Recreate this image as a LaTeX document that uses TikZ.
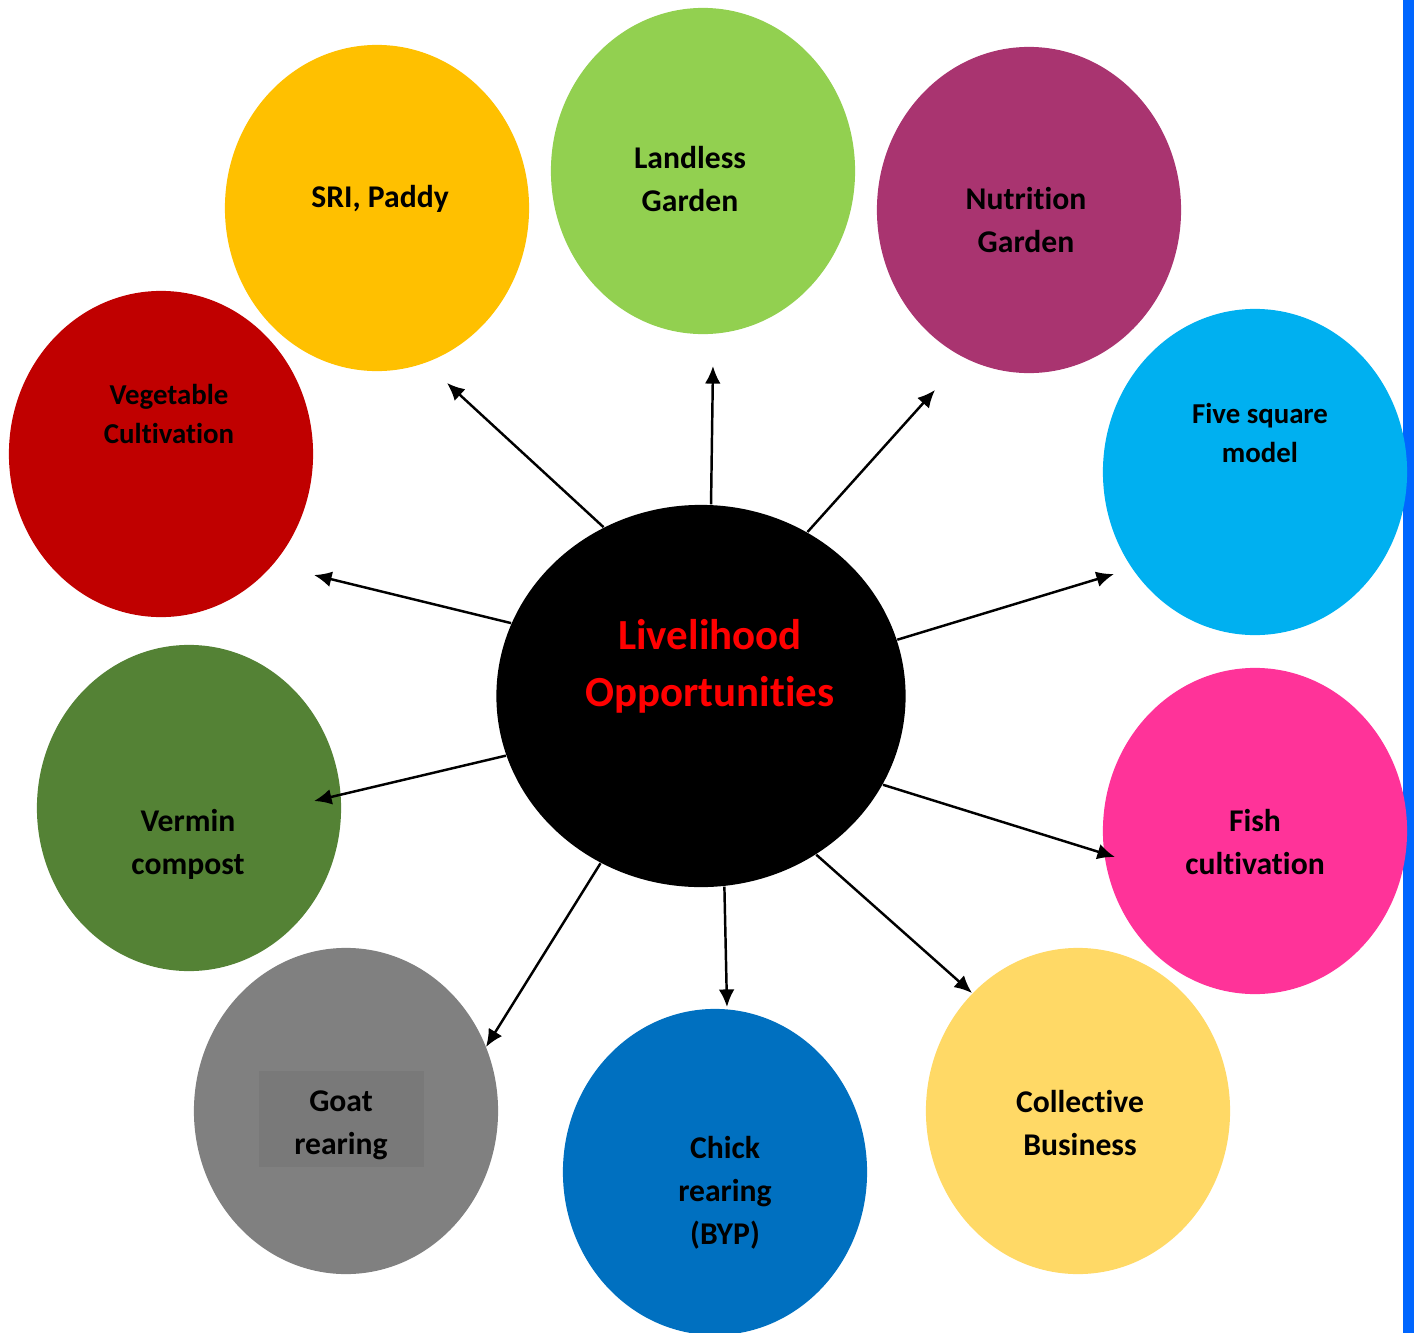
\documentclass[tikz,border=0pt]{standalone}
\usepackage{fontspec}
\setmainfont{Carlito}[Ligatures=NoCommon]
\usepackage{tikz}
\usetikzlibrary{shapes.geometric,arrows.meta}
\usepackage{xcolor}
\definecolor{jaunesri}{RGB}{255,192,0}
\definecolor{vertclair}{RGB}{146,208,80}
\definecolor{prune}{RGB}{169,52,112}
\definecolor{cyanvif}{RGB}{0,176,240}
\definecolor{rosevif}{RGB}{255,51,153}
\definecolor{jaunepale}{RGB}{255,217,102}
\definecolor{bleufonce}{RGB}{0,112,192}
\definecolor{grismoyen}{RGB}{128,128,128}
\definecolor{grisfonce}{RGB}{121,121,121}
\definecolor{vertfonce}{RGB}{84,130,53}
\definecolor{rougefonce}{RGB}{192,0,0}
\definecolor{bleubord}{RGB}{0,102,255}

\begin{document}
\begin{tikzpicture}[x=0.01cm,y=-0.01cm,
		bulle/.style={ellipse, minimum width=3.04cm, minimum height=3.26cm, inner sep=0pt},
		etiquette/.style={align=center, font=\fontsize{9}{12.2}\selectfont\bfseries},
		petite/.style={align=center, font=\fontsize{8.2}{11.1}\selectfont\bfseries},
		fleche/.style={-{Latex[length=5pt,width=4.5pt]}, line width=0.7pt}]
	\useasboundingbox (0,0) rectangle (1414,1333);
	\fill[bleubord] (1403,0) rectangle (1414,1333);
	
	% bulles autour
	\node[bulle, fill=jaunesri] (sri) at (377,208) {};
	\node[bulle, fill=vertclair] (landless) at (703,171) {};
	\node[bulle, fill=prune] (nutrition) at (1029,210) {};
	\node[bulle, fill=cyanvif] (fivesq) at (1255,472) {};
	\node[bulle, fill=rosevif] (fish) at (1255,831) {};
	\node[bulle, fill=jaunepale] (collectif) at (1078,1111) {};
	\node[bulle, fill=bleufonce] (chick) at (715,1172) {};
	\node[bulle, fill=grismoyen] (goat) at (346,1111) {};
	\node[bulle, fill=vertfonce] (vermin) at (189,808) {};
	\node[bulle, fill=rougefonce] (legume) at (161,454) {};
	
	% bulle centrale
	\node[ellipse,
		fill=black,
		minimum width=4.09cm,
		minimum height=3.82cm,
		inner sep=0pt] (centre) at (701,696) {};
	
	% textes
	\fill[grisfonce] (259,1071) rectangle (424,1167);
	\node[etiquette] (sri-txt) at (380,199) {SRI, Paddy};
	\node[etiquette] (landless-txt) at (690,179) {Landless\\Garden};
	\node[etiquette] (nutrition-txt) at (1026,220) {Nutrition\\Garden};
	\node[petite] (fivesq-txt) at (1260,433) {Five square\\model};
	\node[etiquette] (fish-txt) at (1255,842) {Fish\\cultivation};
	\node[etiquette] (collectif-txt) at (1080,1123) {Collective\\Business};
	\node[etiquette] (chick-txt) at (725,1193) {Chick\\rearing\\(BYP)};
	\node[etiquette] (goat-txt) at (341,1125) {Goat\\rearing};
	\node[etiquette] (vermin-txt) at (188,844) {Vermin\\compost};
	\node[petite] (legume-txt) at (169,414) {Vegetable\\Cultivation};
	\node[align=center,
		text=red,
		font=\fontsize{12.2}{16.2}\selectfont\bfseries] (centre-txt) at (710,666) {Livelihood\\Opportunities};
	
	% pointes des fleches
	\coordinate (p-sri) at (447,383);
	\coordinate (p-landless) at (713,366);
	\coordinate (p-nutrition) at (935,390);
	\coordinate (p-fivesq) at (1114,574);
	\coordinate (p-fish) at (1115,857);
	\coordinate (p-collectif) at (972,993);
	\coordinate (p-chick) at (727,1007);
	\coordinate (p-goat) at (486,1047);
	\coordinate (p-vermin) at (314,801);
	\coordinate (p-legume) at (314,575);
	
	\draw[fleche] (centre.120) -- (p-sri);
	\draw[fleche] (centre.87) -- (p-landless);
	\draw[fleche] (centre.57.4) -- (p-nutrition);
	\draw[fleche] (centre.16.8) -- (p-fivesq);
	\draw[fleche] (centre.-26) -- (p-fish);
	\draw[fleche] (centre.-54.6) -- (p-collectif);
	\draw[fleche] (centre.-83) -- (p-chick);
	\draw[fleche] (centre.-121.8) -- (p-goat);
	\draw[fleche] (centre.-163) -- (p-vermin);
	\draw[fleche] (centre.159.3) -- (p-legume);
\end{tikzpicture}
\end{document}
